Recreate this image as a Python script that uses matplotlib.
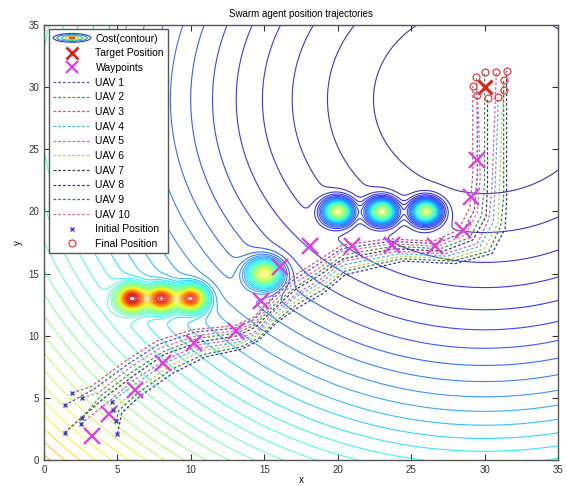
import numpy as np
import matplotlib
matplotlib.use("Agg")
import matplotlib.pyplot as plt
from matplotlib.lines import Line2D
from matplotlib.patches import Ellipse
from matplotlib.legend_handler import HandlerBase

plt.rcParams['font.family'] = ['Liberation Sans', 'DejaVu Sans']

# cost field: quadratic bowl around the goal plus gaussian obstacle bumps
goal_center = (30.0, 29.0)
obst_x = [6, 8, 10, 15, 20, 23, 26]
obst_y = [13, 13, 13, 15, 20, 20, 20]
obst_amp = [1500, 1500, 1500, 1150, 1300, 1300, 1300]
obst_sigma = [0.65, 0.65, 0.65, 0.75, 0.65, 0.65, 0.65]
n_levels = 40

target = (30.0, 30.0)
waypoints_x = [3.3, 4.4, 6.2, 8.1, 10.2, 13.1, 14.8, 16.1, 18.1, 21.0, 23.7, 26.6, 28.5, 29.1, 29.5]
waypoints_y = [1.9, 3.7, 5.6, 7.8, 9.4, 10.4, 12.8, 15.5, 17.2, 17.2, 17.3, 17.2, 18.5, 21.2, 24.1]

# agent trajectories (first point = start, last point = final position)
uav1_x = [1.4, 3.4, 5.7, 7.8, 10.3, 13.0, 14.3, 15.6, 17.0, 18.6, 20.3, 23.6, 26.7, 28.5, 29.3, 29.5, 29.5, 29.45]
uav1_y = [4.4, 5.7, 7.7, 9.3, 10.3, 10.6, 11.3, 13.0, 14.5, 15.7, 17.0, 17.6, 17.4, 18.3, 20.1, 22.8, 28.0, 30.8]
uav2_x = [2.6, 3.9, 5.9, 8.1, 10.5, 13.1, 14.4, 15.7, 17.1, 18.7, 20.4, 23.8, 27.0, 29.0, 29.8, 30.0, 30.0, 30.0]
uav2_y = [3.4, 5.2, 7.0, 8.7, 9.8, 10.2, 10.9, 12.5, 13.9, 15.1, 16.5, 17.2, 17.0, 17.9, 19.7, 22.3, 28.0, 31.2]
uav3_x = [1.9, 3.2, 5.6, 7.7, 10.2, 13.0, 14.3, 15.6, 17.0, 18.6, 20.3, 23.5, 26.5, 28.2, 29.0, 29.2, 29.2, 29.2]
uav3_y = [5.4, 5.9, 8.0, 9.6, 10.5, 10.8, 11.5, 13.2, 14.8, 16.0, 17.3, 17.8, 17.6, 18.5, 20.3, 23.0, 28.0, 30.1]
uav4_x = [4.6, 5.4, 6.2, 8.4, 10.7, 13.3, 14.5, 15.7, 17.1, 18.9, 20.4, 24.2, 27.5, 29.7, 30.6, 30.7, 30.9, 30.9]
uav4_y = [4.7, 5.4, 6.1, 7.9, 9.0, 9.5, 10.2, 11.7, 13.1, 14.3, 15.7, 16.6, 16.4, 17.2, 19.2, 21.7, 27.5, 29.2]
uav5_x = [2.5, 4.4, 6.1, 8.3, 10.7, 13.2, 14.5, 15.7, 17.1, 18.8, 20.4, 24.1, 27.3, 29.5, 30.3, 30.5, 30.7, 30.8]
uav5_y = [2.9, 4.7, 6.4, 8.1, 9.3, 9.7, 10.4, 12.0, 13.3, 14.5, 16.0, 16.8, 16.6, 17.4, 19.4, 21.9, 28.0, 31.2]
uav6_x = [4.7, 5.3, 6.3, 8.6, 10.8, 13.3, 14.5, 15.8, 17.2, 18.9, 20.5, 24.3, 27.7, 30.0, 30.9, 31.0, 31.2, 31.3]
uav6_y = [4.0, 4.7, 5.7, 7.6, 8.8, 9.3, 10.0, 11.5, 12.8, 14.0, 15.4, 16.4, 16.2, 17.0, 19.0, 21.4, 27.8, 29.8]
uav7_x = [1.4, 4.1, 6.0, 8.2, 10.6, 13.2, 14.4, 15.7, 17.1, 18.8, 20.4, 23.9, 27.2, 29.2, 30.1, 30.2, 30.2, 30.2]
uav7_y = [2.2, 5.0, 6.7, 8.5, 9.5, 10.0, 10.7, 12.2, 13.7, 14.9, 16.2, 17.0, 16.8, 17.7, 19.6, 22.1, 27.5, 29.1]
uav8_x = [5.0, 5.3, 6.5, 8.8, 11.0, 13.4, 14.6, 15.8, 17.2, 19.0, 20.5, 24.5, 28.0, 30.5, 31.4, 31.5, 31.5, 31.5]
uav8_y = [2.1, 3.8, 5.1, 7.0, 8.3, 8.9, 9.6, 11.0, 12.2, 13.4, 14.9, 16.0, 15.8, 16.6, 18.6, 21.0, 28.0, 31.3]
uav9_x = [4.9, 5.1, 6.4, 8.7, 10.9, 13.4, 14.6, 15.8, 17.2, 19.0, 20.5, 24.4, 27.8, 30.3, 31.1, 31.3, 31.3, 31.3]
uav9_y = [3.1, 4.0, 5.4, 7.3, 8.5, 9.1, 9.8, 11.2, 12.5, 13.7, 15.2, 16.2, 16.0, 16.8, 18.8, 21.2, 28.0, 30.6]
uav10_x = [2.6, 3.7, 5.8, 7.9, 10.4, 13.1, 14.4, 15.6, 17.0, 18.7, 20.3, 23.7, 26.8, 28.7, 29.5, 29.7, 29.6, 29.5]
uav10_y = [5.0, 5.4, 7.4, 9.0, 10.0, 10.4, 11.1, 12.7, 14.2, 15.4, 16.8, 17.4, 17.2, 18.1, 19.9, 22.6, 27.5, 29.4]

uav_colors = ['#5050d0', '#3a9a5a', '#e0506a', '#40c0c8', '#d060d0',
              '#d0c840', '#404040', '#3838a0', '#2f8050', '#e8708a']

paths = [(uav1_x, uav1_y), (uav2_x, uav2_y), (uav3_x, uav3_y), (uav4_x, uav4_y),
         (uav5_x, uav5_y), (uav6_x, uav6_y), (uav7_x, uav7_y), (uav8_x, uav8_y),
         (uav9_x, uav9_y), (uav10_x, uav10_y)]


class CostKey:
    pass


class CostHandler(HandlerBase):
    def create_artists(self, legend, orig_handle, xdescent, ydescent,
                       width, height, fontsize, trans):
        cx = width / 2 - xdescent
        cy = height / 2 - ydescent
        rings = [(1.0, 1.2, '#4848b0'), (0.8, 0.95, '#3090d0'),
                 (0.55, 0.7, '#40c0a0'), (0.32, 0.45, '#d0d040'),
                 (0.14, 0.22, '#e04030')]
        arts = []
        for fw, fh, c in rings:
            e = Ellipse((cx, cy), width * fw, height * fh, fill=False,
                        edgecolor=c, lw=0.9, transform=trans)
            arts.append(e)
        return arts


gx = np.linspace(0, 35, 351)
gy = np.linspace(0, 35, 351)
X, Y = np.meshgrid(gx, gy)
Z = (X - goal_center[0]) ** 2 + (Y - goal_center[1]) ** 2
for ox, oy, a, s in zip(obst_x, obst_y, obst_amp, obst_sigma):
    Z = Z + a * np.exp(-((X - ox) ** 2 + (Y - oy) ** 2) / (2 * s ** 2))

levels = np.linspace(Z.min(), Z.max(), n_levels + 2)[1:-1]

fig = plt.figure(figsize=(5.66, 4.86), dpi=100)
ax = fig.add_axes([44 / 566, 26 / 486, 514 / 566, 435 / 486])

ax.contour(X, Y, Z, levels=levels, cmap='jet', vmin=Z.min(), vmax=Z.max(),
           linewidths=0.8, alpha=0.78)

for (px, py), c in zip(paths, uav_colors):
    ax.plot(px, py, color=c, lw=0.9, linestyle=(0, (2.2, 1.6)))

ax.plot(waypoints_x, waypoints_y, linestyle='none', marker='x', color='#e040e0',
        markersize=11, markeredgewidth=1.7)
ax.plot(target[0], target[1], marker='x', color='#e02020', markersize=10.5,
        markeredgewidth=2.2)

start_x = [p[0][0] for p in paths]
start_y = [p[1][0] for p in paths]
end_x = [p[0][-1] for p in paths]
end_y = [p[1][-1] for p in paths]
ax.plot(start_x, start_y, linestyle='none', marker='x', color='#4040d0',
        markersize=3.5, markeredgewidth=1.0)
ax.plot(end_x, end_y, linestyle='none', marker='o', markerfacecolor='none',
        markeredgecolor='#e04040', markersize=5, markeredgewidth=0.9)

ax.set_xlim(0, 35)
ax.set_ylim(0, 35)
ax.set_xticks(range(0, 36, 5))
ax.set_yticks(range(0, 36, 5))
ax.tick_params(direction='in', length=4, width=0.8, labelsize=7,
               top=True, right=True, colors='#333333')
for sp in ax.spines.values():
    sp.set_color('#555555')
    sp.set_linewidth(1.0)
ax.set_title('Swarm agent position trajectories', fontsize=7, pad=6)
ax.set_xlabel('x', fontsize=7, labelpad=0)
ax.set_ylabel('y', fontsize=7, labelpad=4)

handles = [CostKey(),
           Line2D([], [], linestyle='none', marker='x', color='#e02020',
                  markersize=8, markeredgewidth=2),
           Line2D([], [], linestyle='none', marker='x', color='#e040e0',
                  markersize=8, markeredgewidth=1.6)]
handles += [Line2D([], [], color=c, lw=0.9, linestyle=(0, (2.2, 1.6)))
            for c in uav_colors]
handles += [Line2D([], [], linestyle='none', marker='x', color='#4040d0',
                   markersize=3.5, markeredgewidth=1.0),
            Line2D([], [], linestyle='none', marker='o', markerfacecolor='none',
                   markeredgecolor='#e04040', markersize=5, markeredgewidth=0.9)]
labels = ['Cost(contour)', 'Target Position', 'Waypoints'] + \
         ['UAV %d' % (i + 1) for i in range(10)] + \
         ['Initial Position', 'Final Position']

leg = ax.legend(handles, labels, handler_map={CostKey: CostHandler()},
                loc='upper left', bbox_to_anchor=(0.01, 0.99), borderaxespad=0,
                fontsize=7.5, handlelength=3.6, handletextpad=0.45,
                labelspacing=0.45, borderpad=0.4, fancybox=False,
                framealpha=1, edgecolor='#555555')
leg.get_frame().set_linewidth(1.0)

fig.savefig('out.png', dpi=100)
